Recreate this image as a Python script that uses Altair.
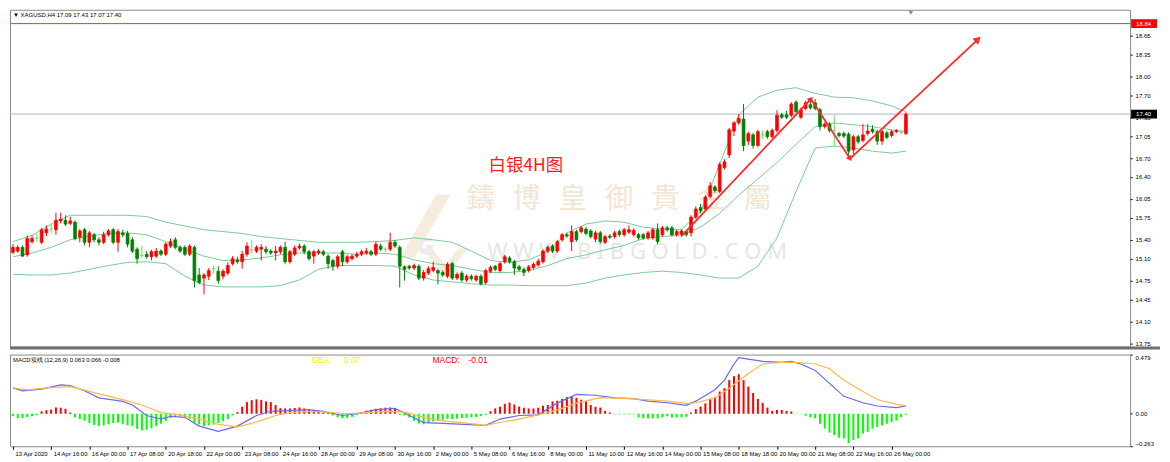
import json, math
import numpy as np
import pandas as pd
import altair as alt

# ------------------------------------------------------------------ data
opens = [15.20,15.22,15.28,15.16,15.37,15.43,15.36,15.51,15.57,15.56,
         15.70,15.71,15.66,15.68,15.44,15.56,15.36,15.48,15.40,15.36,
         15.48,15.56,15.36,15.51,15.50,15.40,15.25,15.15,15.17,15.13,
         15.14,15.22,15.17,15.30,15.40,15.28,15.28,15.17,15.28,14.84,
         14.79,14.82,14.94,14.90,14.82,14.87,15.02,15.08,15.05,15.17,
         15.24,15.22,15.25,15.25,15.22,15.19,15.21,15.28,15.05,15.17,
         15.27,15.30,15.21,15.14,15.19,15.21,15.14,15.07,14.98,15.21,
         15.05,15.10,15.14,15.17,15.19,15.21,15.17,15.30,15.25,15.25,
         15.36,15.28,14.97,14.98,14.95,14.98,14.79,14.87,14.91,14.91,
         14.88,14.82,15.02,14.79,14.87,14.76,14.82,14.76,14.82,14.72,
         14.90,14.98,14.91,15.05,15.11,15.05,14.97,14.93,14.91,14.96,
         15.00,15.05,15.22,15.30,15.22,15.40,15.48,15.37,15.53,15.53,
         15.57,15.54,15.41,15.51,15.36,15.46,15.45,15.53,15.48,15.52,
         15.48,15.48,15.48,15.43,15.43,15.56,15.48,15.59,15.59,15.48,
         15.49,15.53,15.51,15.76,15.91,15.89,16.09,16.24,16.17,16.55,
         16.75,17.13,17.26,17.32,16.97,17.07,16.90,17.07,17.12,17.04,
         17.14,17.39,17.39,17.38,17.59,17.35,17.49,17.55,17.58,17.47,
         17.20,17.24,17.14,17.09,17.09,17.08,16.83,17.04,16.98,17.09,
         17.16,17.12,16.97,17.10,17.06,17.12,17.11,17.09]
highs = [15.33,15.31,15.31,15.47,15.47,15.50,15.59,15.63,15.65,15.83,
         15.83,15.79,15.77,15.71,15.57,15.59,15.54,15.51,15.44,15.53,
         15.57,15.59,15.57,15.56,15.54,15.44,15.28,15.31,15.22,15.24,
         15.27,15.25,15.36,15.42,15.44,15.31,15.31,15.33,15.31,14.95,
         14.87,14.95,14.99,14.98,14.93,15.04,15.14,15.13,15.22,15.36,
         15.40,15.31,15.33,15.30,15.25,15.30,15.31,15.37,15.24,15.31,
         15.34,15.33,15.24,15.24,15.25,15.24,15.17,15.10,15.16,15.24,
         15.16,15.17,15.21,15.24,15.27,15.24,15.37,15.34,15.28,15.51,
         15.40,15.31,14.99,15.00,15.02,15.01,14.92,14.98,15.05,14.94,
         14.91,15.04,15.05,14.88,14.90,14.85,14.85,14.84,14.85,14.94,
         14.99,15.00,15.05,15.16,15.14,15.08,15.00,14.96,15.00,15.04,
         15.10,15.25,15.31,15.33,15.40,15.51,15.51,15.63,15.56,15.62,
         15.60,15.57,15.54,15.54,15.48,15.49,15.54,15.56,15.59,15.63,
         15.58,15.51,15.51,15.54,15.59,15.66,15.62,15.62,15.62,15.56,
         15.57,15.55,15.79,15.93,15.97,16.11,16.32,16.27,16.63,16.68,
         17.18,17.29,17.40,17.56,17.12,17.10,17.15,17.14,17.15,17.17,
         17.46,17.42,17.45,17.59,17.62,17.50,17.61,17.64,17.64,17.50,
         17.27,17.27,17.38,17.12,17.12,17.11,17.07,17.07,17.24,17.24,
         17.22,17.15,17.15,17.13,17.15,17.16,17.14,17.43]
lows = [15.17,15.19,15.13,15.13,15.34,15.37,15.33,15.46,15.51,15.48,
        15.66,15.62,15.63,15.39,15.36,15.31,15.28,15.36,15.31,15.33,
        15.45,15.33,15.21,15.44,15.28,15.19,15.02,15.11,15.10,15.07,
        15.11,15.14,15.14,15.27,15.25,15.19,15.14,15.14,14.64,14.69,
        14.53,14.76,14.87,14.70,14.77,14.84,14.99,15.02,14.94,15.13,
        15.19,15.19,15.07,15.17,15.16,15.07,15.17,15.02,15.02,15.14,
        15.24,15.17,15.07,15.02,15.16,15.14,14.94,14.91,14.94,14.98,
        15.02,15.07,15.11,15.14,15.16,15.14,15.14,15.22,15.21,15.22,
        15.27,14.64,14.75,14.92,14.92,14.76,14.75,14.84,14.88,14.69,
        14.81,14.79,14.76,14.76,14.73,14.73,14.75,14.73,14.67,14.69,
        14.87,14.90,14.88,15.02,15.02,14.84,14.90,14.82,14.88,14.93,
        14.97,15.02,15.19,15.19,15.19,15.37,15.43,15.22,15.37,15.50,
        15.47,15.42,15.36,15.34,15.33,15.41,15.42,15.45,15.45,15.49,
        15.45,15.40,15.40,15.40,15.40,15.33,15.45,15.53,15.45,15.45,
        15.46,15.45,15.45,15.73,15.82,15.86,16.06,16.15,16.14,16.52,
        16.70,17.05,17.23,16.81,16.91,16.85,16.87,17.00,17.01,17.01,
        17.10,17.32,17.32,17.35,17.41,17.32,17.46,17.47,17.46,17.14,
        17.17,17.11,16.88,17.03,17.02,16.70,16.76,16.93,16.95,17.06,
        17.09,16.91,16.91,17.00,17.03,17.10,17.08,17.07]
closes = [15.28,15.28,15.14,15.42,15.42,15.43,15.56,15.57,15.57,15.71,
          15.73,15.65,15.70,15.42,15.54,15.36,15.51,15.40,15.36,15.48,
          15.54,15.36,15.53,15.48,15.33,15.22,15.10,15.15,15.13,15.21,
          15.22,15.17,15.33,15.37,15.28,15.22,15.17,15.30,14.75,14.72,
          14.84,14.91,14.94,14.75,14.90,14.99,15.10,15.05,15.17,15.30,
          15.24,15.28,15.28,15.21,15.19,15.22,15.28,15.05,15.21,15.27,
          15.30,15.21,15.10,15.21,15.22,15.17,15.02,14.98,15.13,15.05,
          15.13,15.14,15.17,15.21,15.22,15.17,15.33,15.25,15.25,15.36,
          15.30,14.98,14.93,14.95,14.99,14.79,14.88,14.94,14.96,14.87,
          14.84,15.01,14.79,14.85,14.76,14.82,14.78,14.82,14.70,14.91,
          14.96,14.93,15.02,15.13,15.05,14.95,14.93,14.88,14.97,15.01,
          15.06,15.22,15.28,15.22,15.37,15.48,15.46,15.53,15.40,15.59,
          15.50,15.45,15.51,15.37,15.45,15.44,15.51,15.48,15.56,15.56,
          15.55,15.43,15.43,15.51,15.56,15.37,15.59,15.56,15.48,15.53,
          15.54,15.48,15.76,15.89,15.86,16.08,16.26,16.18,16.60,16.64,
          17.15,17.26,17.33,16.90,17.09,16.90,17.12,17.07,17.04,17.14,
          17.38,17.35,17.35,17.56,17.44,17.47,17.58,17.50,17.49,17.20,
          17.24,17.14,17.14,17.06,17.05,16.81,17.04,16.96,17.07,17.13,
          17.12,16.97,17.12,17.03,17.12,17.14,17.11,17.40]

bb_idx = list(range(0, 185, 4)) + [187]
bb_upper = [15.37,15.47,15.65,15.79,15.79,15.79,15.79,15.77,15.68,15.62,
            15.56,15.53,15.50,15.45,15.42,15.39,15.36,15.36,15.36,15.37,
            15.39,15.43,15.40,15.36,15.22,15.07,15.04,15.08,15.21,15.51,
            15.65,15.70,15.68,15.60,15.57,15.56,15.85,16.60,17.39,17.67,
            17.78,17.82,17.73,17.67,17.66,17.61,17.53,17.44]
bb_mid = [15.13,15.19,15.28,15.40,15.46,15.50,15.51,15.48,15.37,15.25,
          15.14,15.07,15.08,15.11,15.16,15.19,15.19,15.19,15.17,15.19,
          15.17,15.08,15.02,14.99,14.93,14.88,14.88,14.91,14.99,15.10,
          15.16,15.24,15.31,15.42,15.45,15.48,15.60,15.82,16.11,16.37,
          16.63,16.92,17.20,17.26,17.23,17.20,17.15,17.12]
bb_lower = [14.85,14.84,14.84,14.87,14.93,14.99,15.04,15.05,15.02,14.82,
            14.68,14.65,14.65,14.65,14.67,14.76,14.93,14.99,14.99,14.99,
            14.98,14.84,14.76,14.73,14.70,14.68,14.68,14.67,14.67,14.67,
            14.71,14.79,14.84,14.88,14.90,14.88,14.84,14.79,14.79,14.98,
            15.43,16.17,16.86,16.89,16.86,16.81,16.78,16.81]

macd_hist = [-0.020,-0.037,-0.035,-0.027,-0.020,-0.012,0.020,0.029,0.034,0.051,
             0.049,0.040,0.010,-0.029,-0.043,-0.057,-0.075,-0.090,-0.100,-0.094,
             -0.086,-0.075,-0.071,-0.085,-0.094,-0.100,-0.123,-0.134,-0.130,-0.118,
             -0.100,-0.080,-0.057,-0.035,-0.029,-0.022,-0.030,-0.040,-0.071,-0.086,
             -0.100,-0.094,-0.088,-0.075,-0.060,-0.043,-0.014,0.014,0.057,0.094,
             0.110,0.117,0.111,0.100,0.094,0.071,0.045,0.043,0.043,0.047,
             0.051,0.043,0.036,0.030,0.022,0.012,0.006,-0.014,-0.029,-0.037,
             -0.034,-0.025,-0.012,0.014,0.025,0.032,0.040,0.043,0.049,0.051,
             0.045,-0.010,-0.014,-0.030,-0.057,-0.080,-0.086,-0.075,-0.062,-0.055,
             -0.049,-0.043,-0.043,-0.040,-0.035,-0.033,-0.029,-0.027,-0.020,-0.009,
             0.020,0.043,0.057,0.080,0.091,0.075,0.058,0.049,0.043,0.043,
             0.049,0.065,0.071,0.100,0.106,0.120,0.135,0.143,0.129,0.114,
             0.100,0.071,0.057,0.050,0.024,0.010,-0.005,-0.005,-0.005,-0.005,
             -0.005,-0.030,-0.037,-0.037,-0.037,-0.037,-0.030,-0.020,-0.030,-0.030,
             -0.030,-0.025,0.010,0.037,0.058,0.084,0.120,0.136,0.180,0.207,
             0.272,0.304,0.320,0.272,0.220,0.168,0.120,0.089,0.050,0.024,
             0.031,0.031,0.024,0.018,-0.003,-0.003,-0.016,-0.029,-0.037,-0.081,
             -0.120,-0.152,-0.173,-0.194,-0.200,-0.238,-0.212,-0.200,-0.160,-0.147,
             -0.120,-0.107,-0.094,-0.081,-0.068,-0.055,-0.029,-0.008]

dif_idx = [0,2,6,10,12,15,18,23,25,28,31,33,36,39,43,47,51,54,62,65,69,72,76,80,
           83,86,90,99,102,106,110,114,118,122,126,130,133,137,141,143,147,149,151,
           152,154,157,161,163,165,168,171,174,178,181,185,187]
dif_vals = [0.209,0.186,0.200,0.234,0.229,0.186,0.129,0.100,0.071,-0.014,-0.043,-0.020,
            -0.029,-0.100,-0.143,-0.100,-0.014,0.020,0.034,0.020,-0.014,0.000,0.034,0.043,
            -0.014,-0.071,-0.077,-0.094,-0.043,-0.014,-0.009,0.086,0.157,0.150,0.128,0.123,
            0.102,0.089,0.068,0.102,0.194,0.272,0.403,0.455,0.442,0.424,0.416,0.424,0.403,
            0.351,0.246,0.141,0.089,0.063,0.050,0.063]
dea_idx = [0,3,7,12,15,19,23,27,31,35,39,43,47,51,55,58,62,66,70,74,78,82,86,90,94,
           99,102,106,110,114,118,123,130,137,141,143,147,150,154,157,161,164,168,171,
           174,178,181,185,187]
dea_vals = [0.209,0.194,0.209,0.220,0.191,0.151,0.114,0.071,0.009,-0.009,-0.043,-0.086,
            -0.106,-0.066,-0.014,0.009,0.020,0.014,0.000,0.009,0.020,0.014,-0.029,-0.057,
            -0.071,-0.094,-0.071,-0.043,-0.009,0.029,0.086,0.130,0.120,0.102,0.084,0.089,
            0.128,0.207,0.325,0.403,0.416,0.416,0.403,0.364,0.272,0.181,0.115,0.076,0.066]

time_labels = ["13 Apr 2020", "14 Apr 16:00", "16 Apr 00:00", "17 Apr 08:00", "20 Apr 18:00",
               "22 Apr 00:00", "23 Apr 08:00", "24 Apr 16:00", "28 Apr 00:00", "29 Apr 08:00",
               "30 Apr 16:00", "2 May 00:00", "5 May 08:00", "6 May 16:00", "8 May 00:00",
               "11 May 10:00", "12 May 16:00", "14 May 00:00", "15 May 08:00", "18 May 18:00",
               "20 May 00:00", "21 May 08:00", "22 May 16:00", "26 May 00:00"]
time_label_idx = list(range(0, 185, 8))
price_ticks = [18.65, 18.35, 18.00, 17.70, 17.35, 17.05, 16.70, 16.40, 16.05, 15.75,
               15.40, 15.10, 14.75, 14.45, 14.10, 13.75]
macd_ticks = [0.479, 0.0, -0.263]

arrow_i = [139.9, 167.1, 175.3, 202.1]
arrow_p = [15.45, 17.64, 16.69, 18.59]

bid_price = 17.40
line_price = 18.84
header_text = "\u25BC XAGUSD,H4  17.09 17.43 17.07 17.40"
macd_header = "MACD\u53CC\u7EBF (12,26,9) 0.063 0.066 -0.008"
chart_note = "\u767D\u94F64H\u56FE"
wm_chars = list("\u9444\u535A\u7687\u5FA1\u8CB4\u91D1\u5C6C")
wm_url = "W W W . B I B G O L D . C O M"

# ------------------------------------------------------------------ layout
W, H1, H2 = 1124, 338, 92
X_DOM = [-0.62, 233.95]
Y_DOM = [13.70, 19.06]
M_DOM = [-0.263, 0.479]
RED, DGREEN, LGREEN = "#ff0000", "#008000", "#5fe35f"
BBCOL = "#79cc95"
FONT = "Liberation Sans"

xs = alt.Scale(domain=X_DOM, nice=False, zero=False)
ys = alt.Scale(domain=Y_DOM, nice=False, zero=False)
ms = alt.Scale(domain=M_DOM, nice=False, zero=False)

yaxis = alt.Axis(orient="right", values=price_ticks, format=".2f", grid=False, domain=False,
                 title=None, labelFontSize=6, tickSize=2, labelPadding=3, labelFont=FONT,
                 labelColor="#000", tickColor="#000")
maxis = alt.Axis(orient="right", values=macd_ticks, grid=False, domain=False, title=None,
                 labelFontSize=6, tickSize=2, labelPadding=3, labelFont=FONT, labelFlush=True,
                 labelColor="#000", tickColor="#000",
                 labelExpr="datum.value == 0 ? '0.00' : format(datum.value, '.3f')")
xaxis = alt.Axis(values=time_label_idx, grid=False, domain=False, title=None, labelAngle=0,
                 labelAlign="left", labelFontSize=6, labelFont=FONT, tickSize=3, labelPadding=1,
                 labelOffset=2, labelColor="#000", tickColor="#000",
                 labelExpr=json.dumps(time_labels) + "[round(datum.value/8)]")


def X(f):
    return alt.X(f, scale=xs, axis=None)


def Y(f):
    return alt.Y(f, scale=ys, axis=yaxis)


n = len(closes)
kind_col = [RED if c > o else (DGREEN if c < o else LGREEN) for o, c in zip(opens, closes)]
cdf = pd.DataFrame({"i": list(range(n)), "o": opens, "h": highs, "l": lows, "c": closes, "col": kind_col})
cdf["b0"] = cdf[["o", "c"]].min(axis=1)
cdf["b1"] = cdf[["o", "c"]].max(axis=1)

wicks = alt.Chart(cdf).mark_rule(strokeWidth=1).encode(
    x=X("i:Q"), y=Y("l:Q"), y2="h:Q", color=alt.Color("col:N", scale=None))
bodies = alt.Chart(cdf).transform_calculate(
    x1="datum.i - 0.3", x2="datum.i + 0.3").mark_rect(strokeWidth=0.7).encode(
    x=X("x1:Q"), x2="x2:Q", y=Y("b0:Q"), y2="b1:Q",
    color=alt.Color("col:N", scale=None), stroke=alt.Stroke("col:N", scale=None))

bb = pd.DataFrame({"i": bb_idx * 3, "p": bb_upper + bb_mid + bb_lower,
                   "band": ["u"] * len(bb_idx) + ["m"] * len(bb_idx) + ["l"] * len(bb_idx)})
bands = alt.Chart(bb).mark_line(color=BBCOL, strokeWidth=1).encode(
    x=X("i:Q"), y=Y("p:Q"), detail="band:N")

bid_line = alt.Chart(pd.DataFrame({"p": [bid_price]})).mark_rule(color="#a9b5c4", strokeWidth=1).encode(y=Y("p:Q"))
red_line = alt.Chart(pd.DataFrame({"p": [line_price]})).mark_rule(color="#ff3030", strokeWidth=1).encode(y=Y("p:Q"))

boxes = pd.DataFrame({"p": [bid_price, line_price], "t": ["%.2f" % bid_price, "%.2f" % line_price],
                      "bg": ["#000000", "#ff0000"]})
boxes["p0"] = boxes["p"] - 0.07
boxes["p1"] = boxes["p"] + 0.07
box_rect = alt.Chart(boxes).mark_rect().encode(
    x=alt.value(W + 1), x2=alt.value(W + 27), y=Y("p0:Q"), y2="p1:Q",
    color=alt.Color("bg:N", scale=None))
box_text = alt.Chart(boxes).mark_text(color="white", align="left", baseline="middle",
                                      fontSize=6, font=FONT).encode(
    x=alt.value(W + 6), y=Y("p:Q"), text="t:N")

arr = pd.DataFrame({"i": arrow_i, "p": arrow_p, "k": list(range(len(arrow_i)))})
arrow_line = alt.Chart(arr).mark_line(color="#ff2a2a", strokeWidth=1.8).encode(
    x=X("i:Q"), y=Y("p:Q"), order="k:Q")
ppi = W / (X_DOM[1] - X_DOM[0])
ppp = H1 / (Y_DOM[1] - Y_DOM[0])
heads = []
for k in range(1, len(arrow_i)):
    dx = (arrow_i[k] - arrow_i[k - 1]) * ppi
    dy = -(arrow_p[k] - arrow_p[k - 1]) * ppp
    ang = math.degrees(math.atan2(dx, -dy)) % 360
    heads.append({"i": arrow_i[k], "p": arrow_p[k], "a": ang, "s": 70 if k == 3 else 40})
hdf = pd.DataFrame(heads)
arrow_heads = alt.Chart(hdf).mark_point(shape="triangle-up", filled=True, color="#ff2a2a",
                                        opacity=1).encode(
    x=X("i:Q"), y=Y("p:Q"), angle=alt.Angle("a:Q", scale=None), size=alt.Size("s:Q", scale=None))

# watermark (logo, company name, url)
logo_df = pd.DataFrame({"i": [86.0], "p": [15.55]})
logo_band = alt.Chart(logo_df).mark_point(
    shape="M 0.35 -1 L 0.75 -1 L -0.25 0.75 L -0.65 0.75 Z", filled=True, color="#f6ecdd",
    opacity=1, size=5200).encode(x=X("i:Q"), y=Y("p:Q"))
logo_chev = alt.Chart(pd.DataFrame({"i": [90.5], "p": [15.12]})).mark_point(
    shape="M -1 -0.4 L -0.6 -0.4 L 0 0.3 L 0.6 -0.4 L 1 -0.4 L 0 0.8 Z", filled=True,
    color="#f6ecdd", opacity=1, size=2200).encode(x=X("i:Q"), y=Y("p:Q"))
logo_g = alt.Chart(pd.DataFrame({"t": ["G"], "i": [86.5], "p": [15.27]})).mark_text(
    fontSize=24, fontWeight="bold", font="Noto Sans", color="#ececec", baseline="middle",
    align="center").encode(x=X("i:Q"), y=Y("p:Q"), text="t:N")

wm_step = 9.67
wm_center = 126.95
wdf = pd.DataFrame({"t": wm_chars,
                    "i": [wm_center + (k - 3) * wm_step for k in range(len(wm_chars))],
                    "p": [16.03] * len(wm_chars)})
wm1 = alt.Chart(wdf).mark_text(fontSize=28, font="Noto Sans CJK TC", color="#f3e5d4",
                               baseline="middle", align="center").encode(
    x=X("i:Q"), y=Y("p:Q"), text="t:N")
wm2 = alt.Chart(pd.DataFrame({"t": [wm_url], "i": [130.7], "p": [15.20]})).mark_text(
    fontSize=22, font="Noto Sans", color="#e6e6e6", baseline="middle", align="center").encode(
    x=X("i:Q"), y=Y("p:Q"), text="t:N")

note = alt.Chart(pd.DataFrame({"t": [chart_note], "i": [107.4], "p": [16.57]})).mark_text(
    fontSize=17.5, font="Noto Sans CJK SC", color="#ff1a1a", baseline="middle", align="center").encode(
    x=X("i:Q"), y=Y("p:Q"), text="t:N")

header = alt.Chart(pd.DataFrame({"t": [header_text]})).mark_text(
    fontSize=6, font=FONT, color="#000", align="left", baseline="middle").encode(
    x=alt.value(3), y=alt.value(5), text="t:N")
shift_mark = alt.Chart(pd.DataFrame({"t": ["s"]})).mark_point(
    shape="triangle-down", filled=True, color="#8c8c8c", size=22, opacity=1).encode(
    x=alt.value(904), y=alt.value(3))
separator = alt.Chart(pd.DataFrame({"t": ["s"]})).mark_rule(color="#707070", strokeWidth=3).encode(
    x=alt.value(0), x2=alt.value(W + 30), y=alt.value(H1 + 1.5))

main = alt.layer(logo_band, logo_chev, logo_g, wm1, wm2, bands, bid_line, red_line, wicks, bodies,
                 arrow_line, arrow_heads, note, header, shift_mark, box_rect, box_text,
                 separator).properties(width=W, height=H1)

# ------------------------------------------------------------------ MACD panel
mdf = pd.DataFrame({"i": list(range(n)), "v": macd_hist})
mdf["z"] = 0.0
mdf["col"] = np.where(mdf["v"] >= 0, "#ff0000", "#00ff00")
hist = alt.Chart(mdf).mark_rule(strokeWidth=2).encode(
    x=alt.X("i:Q", scale=xs, axis=xaxis), y=alt.Y("v:Q", scale=ms, axis=maxis), y2="z:Q",
    color=alt.Color("col:N", scale=None))
dif = alt.Chart(pd.DataFrame({"i": dif_idx, "v": dif_vals})).mark_line(
    color="#6a6ae6", strokeWidth=1.2).encode(
    x=alt.X("i:Q", scale=xs, axis=xaxis), y=alt.Y("v:Q", scale=ms, axis=maxis))
dea = alt.Chart(pd.DataFrame({"i": dea_idx, "v": dea_vals})).mark_line(
    color="#ffb84d", strokeWidth=1.2).encode(
    x=alt.X("i:Q", scale=xs, axis=xaxis), y=alt.Y("v:Q", scale=ms, axis=maxis))

mtexts = pd.DataFrame({"t": [macd_header, "DEA:", "%.2f" % dea_vals[-1], "MACD:", "%.2f" % macd_hist[-1]],
                       "x": [3, 303, 335, 424, 460],
                       "c": ["#000000", "#f2f200", "#f2f200", "#ff0000", "#ff0000"],
                       "fs": [6, 8.5, 8.5, 8.5, 8.5]})
mt = alt.Chart(mtexts).mark_text(align="left", baseline="middle", font=FONT).encode(
    x=alt.X("x:Q", scale=None), y=alt.value(5), text="t:N",
    size=alt.Size("fs:Q", scale=None), color=alt.Color("c:N", scale=None))

macd = alt.layer(hist, dif, dea, mt).properties(width=W, height=H2)

chart = alt.vconcat(main, macd, spacing=3).properties(
    padding={"left": 0, "top": 0, "right": 0, "bottom": 0},
    background="white",
).configure_view(stroke="#8a8a8a", strokeWidth=1)

chart.save("out.html", embed_options={"renderer": "svg", "actions": False})
